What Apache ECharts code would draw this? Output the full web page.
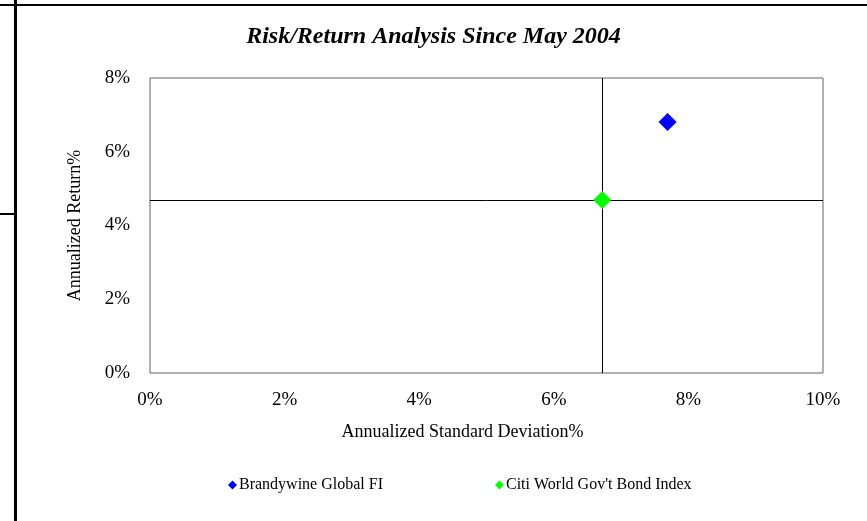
<!DOCTYPE html>
<html>
<head>
<meta charset="utf-8">
<script src="https://cdn.jsdelivr.net/npm/echarts@6/dist/echarts.min.js"></script>
<style>
  html, body { margin: 0; padding: 0; background: #fff; }
  #chart { width: 867px; height: 521px; }
</style>
</head>
<body>
<div id="chart"></div>
<script>
// Annualized standard deviation (%) and annualized return (%) per fund
const seriesNames = ["Brandywine Global FI", "Citi World Gov't Bond Index"];
const stdDev = [7.69, 6.72];
const annReturn = [6.81, 4.69];
const seriesColors = ['#0000ff', '#00ff00'];
const xTicks = [0, 2, 4, 6, 8, 10];
const yTicks = [0, 2, 4, 6, 8];

const font = '"Liberation Serif", "Times New Roman", serif';
const chart = echarts.init(document.getElementById('chart'));

// Reference crosshair drawn through the benchmark point
const benchIdx = 1;

const series = seriesNames.map((name, i) => {
  const s = {
    name: name,
    type: 'scatter',
    symbol: 'diamond',
    symbolSize: 18,
    itemStyle: { color: seriesColors[i], opacity: 1 },
    data: [[stdDev[i], annReturn[i]]],
    z: 5
  };
  if (i === benchIdx) {
    s.markLine = {
      silent: true,
      symbol: 'none',
      label: { show: false },
      lineStyle: { color: '#000', width: 1, type: 'solid', opacity: 1 },
      data: [{ xAxis: stdDev[i] }, { yAxis: annReturn[i] }],
      z: 2
    };
  }
  return s;
});

const legendBase = {
  icon: 'diamond',
  itemWidth: 9,
  itemHeight: 9,
  itemGap: 3,
  top: 472,
  textStyle: { fontFamily: font, fontSize: 16, color: '#000', padding: [0, 0, 0, -3] },
  selectedMode: false
};

chart.setOption({
  animation: false,
  backgroundColor: '#fff',
  textStyle: { fontFamily: font },
  title: {
    text: 'Risk/Return Analysis Since May 2004',
    left: 'center',
    top: 20,
    textStyle: { fontFamily: font, fontSize: 24, fontWeight: 'bold', fontStyle: 'italic', color: '#000' }
  },
  legend: [
    Object.assign({}, legendBase, { data: [seriesNames[0]], left: 223 }),
    Object.assign({}, legendBase, { data: [seriesNames[1]], left: 490 })
  ],
  grid: {
    left: 150, top: 78, right: 44, bottom: 148,
    show: true, borderColor: '#606060', borderWidth: 1, backgroundColor: 'transparent'
  },
  xAxis: {
    type: 'value',
    min: xTicks[0], max: xTicks[xTicks.length - 1], interval: 2,
    name: 'Annualized Standard Deviation%',
    nameLocation: 'middle',
    nameGap: 50,
    nameTextStyle: { fontFamily: font, fontSize: 18, color: '#000', padding: [0, 48, 0, 0] },
    axisLine: { show: false },
    axisTick: { show: false },
    splitLine: { show: false },
    axisLabel: { fontFamily: font, fontSize: 19, color: '#000', margin: 18, formatter: v => v + '%' }
  },
  yAxis: {
    type: 'value',
    min: yTicks[0], max: yTicks[yTicks.length - 1], interval: 2,
    name: 'Annualized Return%',
    nameLocation: 'middle',
    nameGap: 66,
    nameRotate: 90,
    nameTextStyle: { fontFamily: font, fontSize: 18, color: '#000' },
    axisLine: { show: false },
    axisTick: { show: false },
    splitLine: { show: false },
    axisLabel: { fontFamily: font, fontSize: 19, color: '#000', margin: 20, formatter: v => v + '%' }
  },
  graphic: [
    { type: 'rect', shape: { x: 0, y: 4, width: 867, height: 2 }, style: { fill: '#000' }, silent: true },
    { type: 'rect', shape: { x: 14, y: 0, width: 3, height: 521 }, style: { fill: '#000' }, silent: true },
    { type: 'rect', shape: { x: 0, y: 213, width: 15, height: 2 }, style: { fill: '#000' }, silent: true }
  ],
  series: series
});
</script>
</body>
</html>
